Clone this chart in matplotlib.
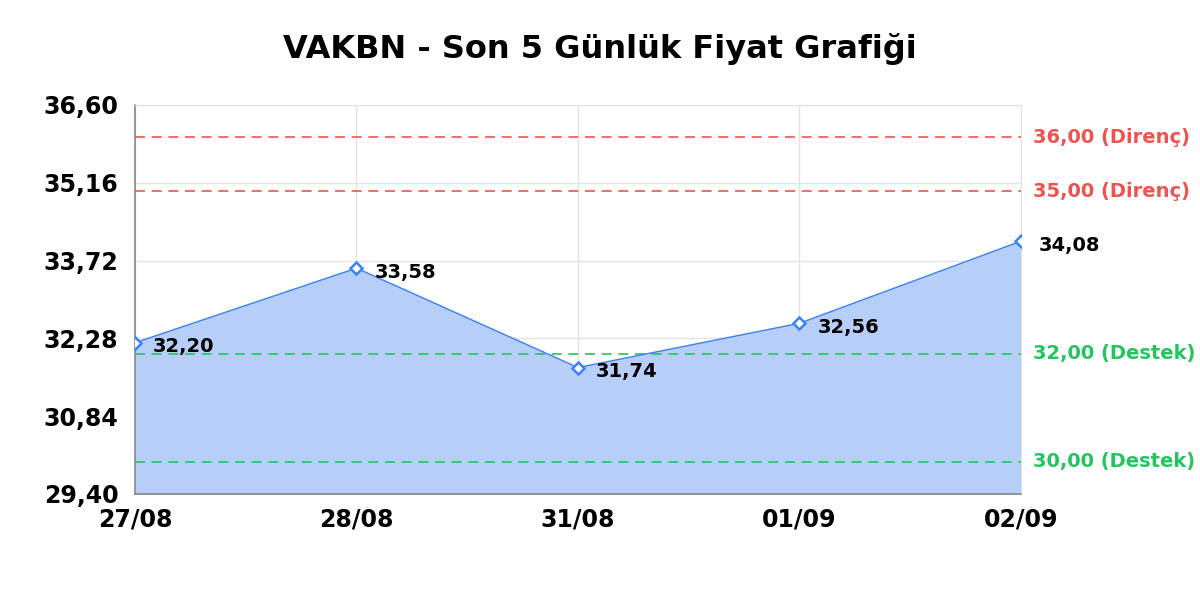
import numpy as np
import matplotlib.pyplot as plt

dates = ['27/08', '28/08', '31/08', '01/09', '02/09']
prices = [32.20, 33.58, 31.74, 32.56, 34.08]
resistance = [36.00, 35.00]
support = [32.00, 30.00]
y_ticks = [29.40, 30.84, 32.28, 33.72, 35.16, 36.60]

line_color = '#3b82f6'
fill_color = '#b7cff8'
red = '#ef5350'
green = '#22c55e'

def fmt(v):
    return f'{v:.2f}'.replace('.', ',')

fig = plt.figure(figsize=(12, 6), dpi=100)
ax = fig.add_axes([0.1125, 0.1767, 0.7383, 0.6483])

x = np.arange(len(dates))
ax.fill_between(x, prices, y_ticks[0], color=fill_color, zorder=1)
ax.plot(x, prices, color=line_color, lw=1, zorder=3)
ax.plot(x, prices, ls='none', marker='D', ms=6.5, mfc='white', mec=line_color, mew=1.8, zorder=4)

for xi, p in zip(x, prices):
    ax.annotate(fmt(p), (xi, p), xytext=(13, -3), textcoords='offset points',
                fontsize=14, fontweight='bold', va='center', ha='left', zorder=5)

for lvl in resistance:
    ax.axhline(lvl, color=red, ls=(0, (6, 4)), lw=1.2, zorder=2)
    ax.text(1.014, lvl, fmt(lvl) + ' (Direnç)', transform=ax.get_yaxis_transform(),
            color=red, fontsize=14, fontweight='bold', va='center', ha='left')
for lvl in support:
    ax.axhline(lvl, color=green, ls=(0, (6, 4)), lw=1.2, zorder=2)
    ax.text(1.014, lvl, fmt(lvl) + ' (Destek)', transform=ax.get_yaxis_transform(),
            color=green, fontsize=14, fontweight='bold', va='center', ha='left')

ax.set_xlim(0, len(dates) - 1)
ax.set_ylim(y_ticks[0], y_ticks[-1])
ax.set_xticks(x)
ax.set_xticklabels(dates, fontsize=17, fontweight='bold')
ax.set_yticks(y_ticks)
ax.set_yticklabels([fmt(v) for v in y_ticks], fontsize=17, fontweight='bold')
ax.tick_params(axis='y', length=0, pad=12)
ax.tick_params(axis='x', length=0, pad=10)

ax.grid(True, color='#e3e3e3', lw=1, zorder=0)
ax.set_axisbelow(True)
for s in ['top', 'right']:
    ax.spines[s].set_color('#e3e3e3')
for s in ['left', 'bottom']:
    ax.spines[s].set_color('#888888')
    ax.spines[s].set_linewidth(1.2)

fig.text(0.5, 0.918, 'VAKBN - Son 5 Günlük Fiyat Grafiği', ha='center', va='center',
         fontsize=23, fontweight='bold')

fig.savefig('out.png', dpi=100)
